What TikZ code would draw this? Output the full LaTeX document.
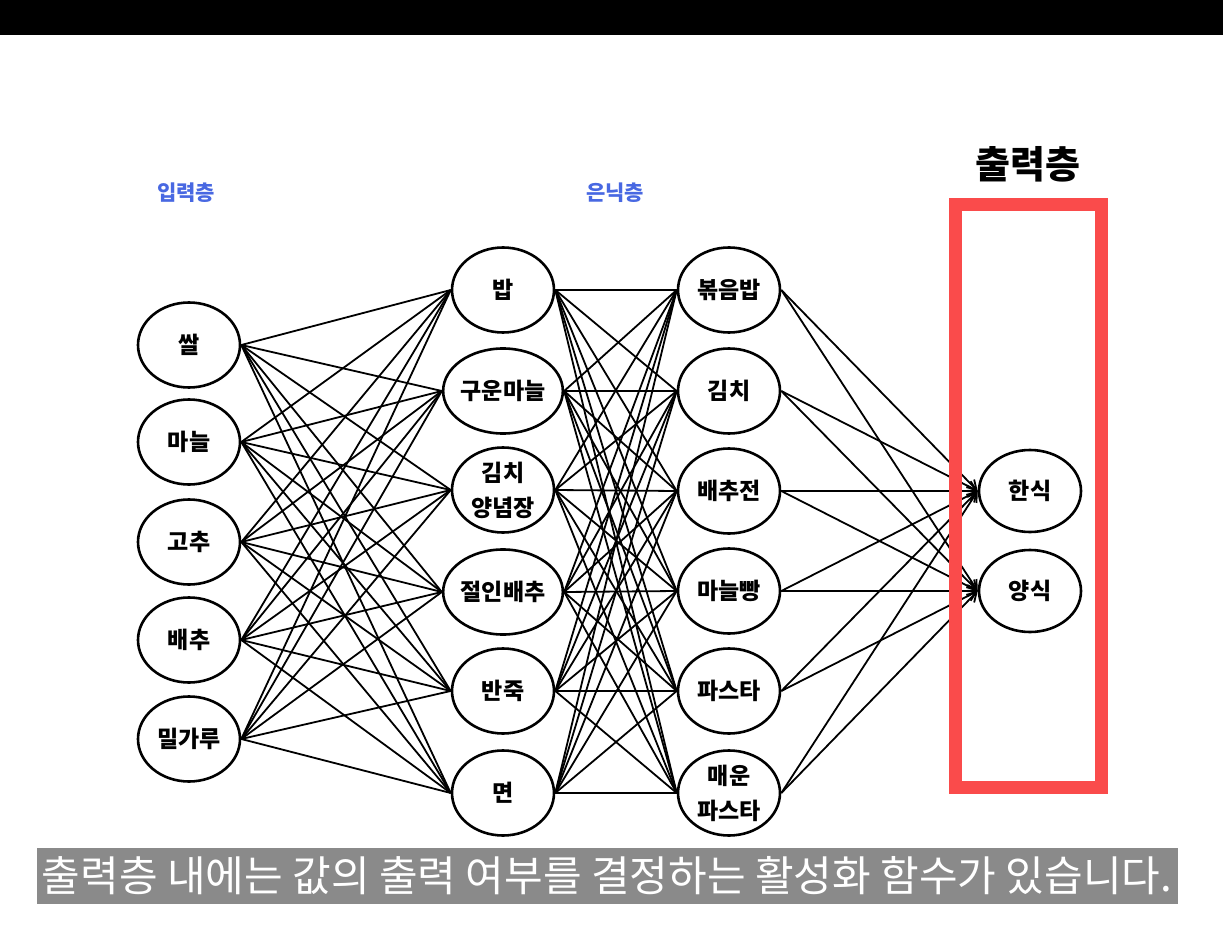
\documentclass[tikz,border=0pt]{standalone}
\usepackage{fontspec}
\setmainfont{Noto Sans CJK KR}
\newfontfamily\kr{Noto Sans CJK KR}
\usetikzlibrary{shapes.geometric,arrows.meta,backgrounds}
\definecolor{layerblue}{RGB}{72,104,226}
\definecolor{boxred}{RGB}{250,75,75}
\definecolor{capgray}{RGB}{138,138,138}
\tikzset{
  neuron/.style={ellipse,draw=black,line width=2.6pt,fill=white,minimum width=102pt,minimum height=85pt,inner sep=0pt,align=center,font=\kr\bfseries\fontsize{23}{35}\selectfont},
  outneuron/.style={neuron,minimum height=82pt},
  link/.style={line width=1.8pt,black},
  outlink/.style={line width=1.8pt,black,-{Straight Barb[length=9pt,width=11pt,line width=1.8pt]}},
  layerlabel/.style={font=\kr\bfseries\fontsize{21}{24}\selectfont,text=layerblue}
}
\begin{document}
\begin{tikzpicture}[x=1pt,y=-1pt]
\useasboundingbox (0,0) rectangle (1223,949);

% input layer
\node[neuron] (i1) at (189,345) {쌀};
\node[neuron] (i2) at (189,442) {마늘};
\node[neuron] (i3) at (189,542) {고추};
\node[neuron] (i4) at (189,640) {배추};
\node[neuron] (i5) at (189,739) {밀가루};
% hidden layer 1
\node[neuron] (a1) at (503,290) {밥};
\node[neuron] (a2) at (503,391) {구운마늘};
\node[neuron] (a3) at (503,490) {김치\\양념장};
\node[neuron] (a4) at (503,592) {절인배추};
\node[neuron] (a5) at (503,691) {반죽};
\node[neuron] (a6) at (503,793) {면};
% hidden layer 2
\node[neuron] (b1) at (729,290) {볶음밥};
\node[neuron] (b2) at (729,391) {김치};
\node[neuron] (b3) at (729,491) {배추전};
\node[neuron] (b4) at (729,591) {마늘빵};
\node[neuron] (b5) at (729,691) {파스타};
\node[neuron] (b6) at (729,793) {매운\\파스타};
% output layer
\node[outneuron] (o1) at (1030,491) {한식};
\node[outneuron] (o2) at (1030,591) {양식};

\begin{scope}[on background layer]
\fill[white] (0,0) rectangle (1223,949);
\fill[black] (0,0) rectangle (1223,35);
\foreach \s in {1,...,5}{\foreach \t in {1,...,6}{\draw[link] (i\s.east) -- (a\t.west);}}
\foreach \s in {1,...,6}{\foreach \t in {1,...,6}{\draw[link] (a\s.east) -- (b\t.west);}}
\foreach \s in {1,...,6}{\foreach \t in {1,2}{\draw[outlink] (b\s.east) -- (o\t.west);}}
\end{scope}

% output box
\draw[boxred,line width=13pt] (955,205) rectangle (1101,787);

% layer titles
\node[layerlabel] (t1) at (186,193) {입력층};
\node[layerlabel] (t2) at (615,193) {은닉층};
\node[font=\kr\bfseries\fontsize{38}{42}\selectfont] (t3) at (1028,164) {출력층};

% caption
\fill[capgray] (37,848) rectangle (1178,904);
\node[text=white,font=\kr\fontsize{42}{46}\selectfont] (cap) at (607,876) {출력층 내에는 값의 출력 여부를 결정하는 활성화 함수가 있습니다.};
\end{tikzpicture}
\end{document}
